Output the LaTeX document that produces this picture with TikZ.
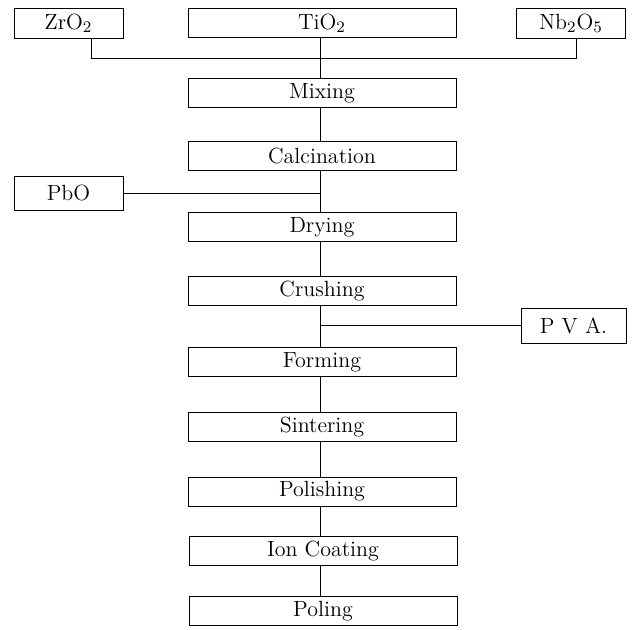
\documentclass[tikz,border=0pt]{standalone}
\usepackage{amsmath}
\usepackage{tikz}
\usetikzlibrary{positioning}

\begin{document}
\begin{tikzpicture}[x=0.5pt, y=-0.5pt, line width=0.5pt,
  stepbox/.style={draw, rectangle, inner sep=0pt, minimum width=134pt, minimum height=14.5pt, font=\fontsize{11}{13}\selectfont},
  addbox/.style={draw, rectangle, inner sep=0pt, minimum width=54.5pt, minimum height=15pt, font=\fontsize{11}{13}\selectfont}]
  \useasboundingbox (0,0) rectangle (638,629);
  % raw materials
  \node[addbox] (ZrO) at (68.5,23) {ZrO$_2$};
  \node[stepbox] (TiO) at (322,23) {TiO$_2$};
  \node[addbox] (NbO) at (571,23) {Nb$_2$O$_5$};
  \node[addbox, minimum height=17pt] (PbO) at (68.5,193) {PbO};
  \node[addbox, minimum width=52.5pt, minimum height=17.5pt] (PVA) at (573.5,325.5) {P V A.};
  % process steps
  \node[stepbox] (mix) at (322,93) {Mixing};
  \node[stepbox] (calc) at (322,156) {Calcination};
  \node[stepbox] (dry) at (322,227) {Drying};
  \node[stepbox] (crush) at (322,291) {Crushing};
  \node[stepbox] (form) at (322,362) {Forming};
  \node[stepbox] (sint) at (322,427) {Sintering};
  \node[stepbox] (pol) at (322,491.5) {Polishing};
  \node[stepbox] (ion) at (323,551) {Ion Coating};
  \node[stepbox] (poling) at (323,611) {Poling};
  % connections
  \coordinate (join) at (320,58);
  \draw ([xshift=11.25pt]ZrO.south) |- (join) -| ([xshift=2.5pt]NbO.south);
  \draw (TiO.south -| join) -- (mix.north -| join);
  \draw (mix.south -| join) -- (calc.north -| join);
  \draw (calc.south -| join) -- (dry.north -| join);
  \draw (PbO.east) -- (PbO.east -| join);
  \draw (dry.south -| join) -- (crush.north -| join);
  \draw (crush.south -| join) -- (form.north -| join);
  \draw (PVA.west) -- (PVA.west -| join);
  \draw (form.south -| join) -- (sint.north -| join);
  \draw (sint.south -| join) -- (pol.north -| join);
  \draw (pol.south -| join) -- (ion.north -| join);
  \draw (ion.south -| join) -- (poling.north -| join);
\end{tikzpicture}
\end{document}
